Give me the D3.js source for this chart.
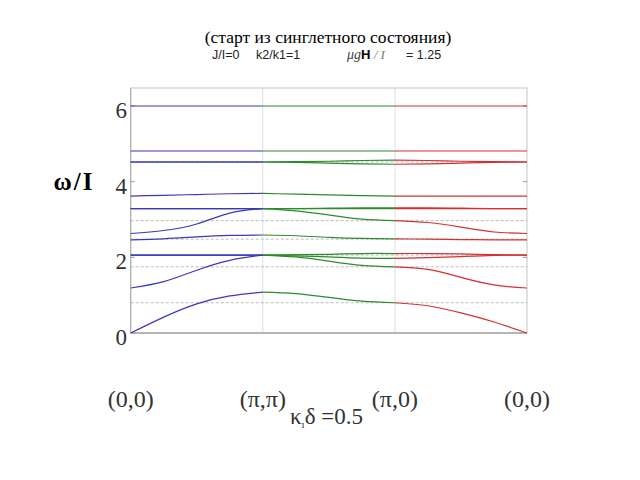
<!DOCTYPE html>
<html>
<head>
<meta charset="utf-8">
<script src="https://cdn.jsdelivr.net/npm/d3@7"></script>
<style>
  body { margin: 0; background: #fff; }
  svg { display: block; }
</style>
</head>
<body>
<svg id="chart"></svg>
<script>
// Path points along (0,0) -> (pi,pi) -> (pi,0) -> (0,0), 4 samples per segment
const kPoints = [0, 0.25, 0.5, 0.75, 1, 1.25, 1.5, 1.75, 2, 2.25, 2.5, 2.75, 3];

const band600 = [6, 6, 6, 6, 6, 6, 6, 6, 6, 6, 6, 6, 6];
const band481 = [4.81, 4.81, 4.81, 4.81, 4.81, 4.81, 4.81, 4.81, 4.81, 4.81, 4.81, 4.81, 4.81];
const band452a = [4.52, 4.52, 4.52, 4.52, 4.52, 4.53, 4.54, 4.56, 4.57, 4.56, 4.54, 4.53, 4.52];
const band452b = [4.52, 4.52, 4.52, 4.52, 4.52, 4.51, 4.49, 4.47, 4.46, 4.47, 4.49, 4.51, 4.52];
const band362 = [3.62, 3.64, 3.66, 3.68, 3.69, 3.67, 3.65, 3.63, 3.62, 3.62, 3.62, 3.62, 3.62];
const band329a = [3.29, 3.29, 3.29, 3.29, 3.29, 3.29, 3.29, 3.29, 3.29, 3.29, 3.29, 3.29, 3.29];
const band329b = [3.29, 3.29, 3.29, 3.29, 3.29, 3.29, 3.30, 3.31, 3.31, 3.31, 3.30, 3.29, 3.29];
const band263 = [2.63, 2.71, 2.88, 3.17, 3.29, 3.23, 3.12, 3.01, 2.97, 2.92, 2.80, 2.67, 2.63];
const band246 = [2.46, 2.49, 2.54, 2.58, 2.59, 2.57, 2.53, 2.50, 2.49, 2.48, 2.47, 2.46, 2.46];
const band206a = [2.06, 2.06, 2.06, 2.06, 2.06, 2.07, 2.08, 2.10, 2.10, 2.10, 2.09, 2.07, 2.06];
const band206b = [2.06, 2.06, 2.06, 2.06, 2.06, 2.04, 2.01, 1.98, 1.97, 1.99, 2.02, 2.05, 2.06];
const band119 = [1.19, 1.36, 1.66, 1.92, 2.06, 2.01, 1.90, 1.79, 1.75, 1.68, 1.47, 1.27, 1.19];
const band000 = [0, 0.42, 0.77, 0.98, 1.08, 1.04, 0.94, 0.84, 0.80, 0.72, 0.53, 0.29, 0];

const bands = [band600, band481, band452a, band452b, band362, band329a, band329b,
    band263, band246, band206a, band206b, band119, band000];

// Dashed reference levels
const dashedLevels = [0.80, 1.75, 2.06, 2.48, 2.97, 4.52];

// Tick labels
const yTicks = [0, 2, 4, 6];
const kTicks = [0, 1, 2, 3];
const kLabels = ['(0,0)', '(π,π)', '(π,0)', '(0,0)'];

// Segment colours: blue, green, red
const segColors = ['#3a3ab4', '#2f8a2f', '#d23232'];

// SVG size and plot box
let width = 640, height = 480;
let plotLeft = 130.7, plotRight = 527, plotTop = 88, plotBottom = 333;

let svg = d3.select('#chart').attr('width', width).attr('height', height);

let xScale = d3.scaleLinear().domain([0, 3]).range([plotLeft, plotRight]);
let yScale = d3.scaleLinear().domain([0, 6]).range([plotBottom, 106]);

// Title lines
function drawTitle() {
    svg.append('text')
        .attr('x', 328).attr('y', 43)
        .attr('text-anchor', 'middle')
        .style('font-family', '"Liberation Serif", serif')
        .style('font-size', '17.5px')
        .text('(старт из синглетного состояния)');

    let sub = svg.append('g')
        .style('font-family', '"Liberation Sans", Arial, sans-serif')
        .style('font-size', '12.5px')
        .attr('fill', '#222');
    sub.append('text').attr('x', 212).attr('y', 59).text('J/I=0');
    sub.append('text').attr('x', 256).attr('y', 59).text('k2/k1=1');

    let mu = svg.append('text').attr('x', 347).attr('y', 59);
    mu.append('tspan')
        .style('font-family', '"Liberation Serif", serif')
        .style('font-style', 'italic')
        .style('font-size', '14px')
        .attr('fill', '#444')
        .text('μg');
    mu.append('tspan')
        .style('font-family', '"Liberation Sans", Arial, sans-serif')
        .style('font-weight', 'bold')
        .style('font-size', '13px')
        .text('H');
    mu.append('tspan')
        .style('font-family', '"Liberation Serif", serif')
        .style('font-style', 'italic')
        .style('font-size', '13px')
        .attr('fill', '#777')
        .text(' / I');
    svg.append('text')
        .attr('x', 406).attr('y', 59)
        .style('font-family', '"Liberation Sans", Arial, sans-serif')
        .style('font-size', '12.5px')
        .attr('fill', '#222')
        .text('= 1.25');
}

// Frame, grid lines and ticks
function drawFrame() {
    svg.append('g').selectAll('line')
        .data([1, 2])
        .enter().append('line')
        .attr('x1', d => xScale(d)).attr('x2', d => xScale(d))
        .attr('y1', plotTop).attr('y2', plotBottom)
        .attr('stroke', '#dedede').attr('stroke-width', 1);

    svg.append('g').selectAll('line')
        .data(dashedLevels)
        .enter().append('line')
        .attr('x1', plotLeft).attr('x2', plotRight)
        .attr('y1', d => yScale(d)).attr('y2', d => yScale(d))
        .attr('stroke', '#b4b4b4').attr('stroke-width', 0.9)
        .attr('stroke-dasharray', '3,2');

    svg.append('rect')
        .attr('x', plotLeft).attr('y', plotTop)
        .attr('width', plotRight - plotLeft).attr('height', plotBottom - plotTop)
        .attr('fill', 'none').attr('stroke', '#c4c4c4').attr('stroke-width', 1);

    svg.append('line')
        .attr('x1', plotLeft).attr('x2', plotRight)
        .attr('y1', plotBottom).attr('y2', plotBottom)
        .attr('stroke', '#8a8a8a').attr('stroke-width', 1.2);
    svg.append('line')
        .attr('x1', plotLeft).attr('x2', plotLeft)
        .attr('y1', plotTop).attr('y2', plotBottom)
        .attr('stroke', '#a8a8a8').attr('stroke-width', 1);

    // inward ticks on both sides
    let ticks = svg.append('g').attr('stroke', '#999');
    ticks.selectAll('.tl').data(yTicks).enter().append('line')
        .attr('class', 'tl')
        .attr('x1', plotLeft).attr('x2', plotLeft + 4)
        .attr('y1', d => yScale(d)).attr('y2', d => yScale(d));
    ticks.selectAll('.tr').data(yTicks).enter().append('line')
        .attr('class', 'tr')
        .attr('x1', plotRight - 4).attr('x2', plotRight)
        .attr('y1', d => yScale(d)).attr('y2', d => yScale(d));
}

// Axis labels
function drawLabels() {
    svg.append('g').selectAll('text')
        .data(yTicks)
        .enter().append('text')
        .attr('x', 127)
        .attr('y', d => yScale(d) + 12)
        .attr('text-anchor', 'end')
        .style('font-family', '"Liberation Serif", serif')
        .style('font-size', '23px')
        .attr('fill', '#333')
        .text(d => d);

    svg.append('text')
        .attr('x', 74).attr('y', 190)
        .attr('text-anchor', 'middle')
        .style('font-family', '"Liberation Serif", serif')
        .style('font-weight', 'bold')
        .style('font-size', '25px')
        .style('letter-spacing', '2px')
        .text('ω/I');

    svg.append('g').selectAll('text')
        .data(kTicks)
        .enter().append('text')
        .attr('x', d => xScale(d))
        .attr('y', 407)
        .attr('text-anchor', 'middle')
        .style('font-family', '"Liberation Serif", serif')
        .style('font-size', '24px')
        .attr('fill', '#333')
        .text((d, i) => kLabels[i]);

    let kd = svg.append('text')
        .attr('x', 290).attr('y', 424)
        .style('font-family', '"Liberation Serif", serif')
        .style('font-size', '23px')
        .attr('fill', '#333');
    kd.append('tspan').text('κ');
    kd.append('tspan').attr('dy', 4).style('font-size', '11px').text('ı');
    kd.append('tspan').attr('dy', -4).text('δ =0.5');
}

// Dispersion branches, one path per segment and colour
function drawBands() {
    let line = d3.line()
        .x(d => xScale(d.k))
        .y(d => yScale(d.w))
        .curve(d3.curveNatural);

    let g = svg.append('g').attr('fill', 'none').attr('stroke-width', 1.2);
    bands.forEach(band => {
        for (let s = 0; s < 3; s++) {
            let pts = [];
            for (let i = s * 4; i <= s * 4 + 4; i++) {
                pts.push({ k: kPoints[i], w: band[i] });
            }
            g.append('path')
                .attr('d', line(pts))
                .attr('stroke', segColors[s]);
        }
    });
}

drawTitle();
drawFrame();
drawBands();
drawLabels();
</script>
</body>
</html>
